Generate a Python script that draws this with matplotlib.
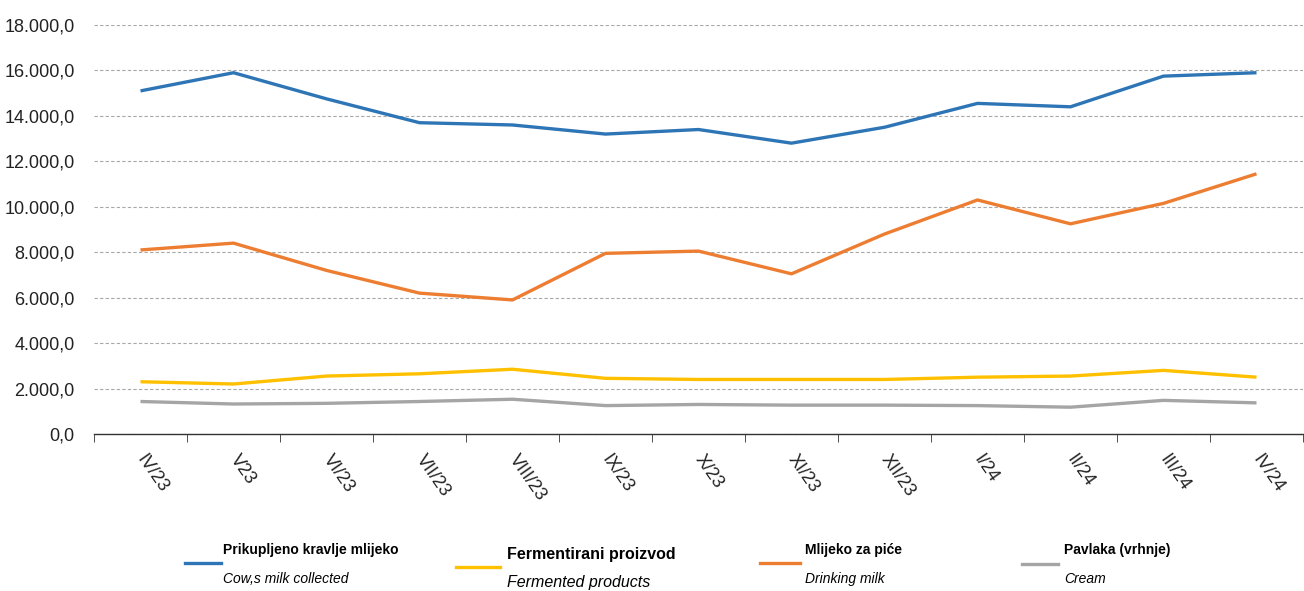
import matplotlib
matplotlib.use("Agg")
import matplotlib.pyplot as plt
from matplotlib.ticker import FuncFormatter, FixedLocator
from matplotlib.lines import Line2D
import numpy as np

categories = ["IV/23", "V23", "VI/23", "VII/23", "VIII/23", "IX/23", "X/23",
              "XI/23", "XII/23", "I/24", "II/24", "III/24", "IV/24"]
cow_milk = [15100, 15900, 14750, 13700, 13600, 13200, 13400, 12800, 13500, 14550, 14400, 15750, 15900]
drinking_milk = [8100, 8400, 7200, 6200, 5900, 7950, 8050, 7050, 8800, 10300, 9250, 10150, 11450]
fermented = [2300, 2200, 2550, 2650, 2850, 2450, 2400, 2400, 2400, 2500, 2550, 2800, 2500]
cream = [1430, 1320, 1350, 1430, 1530, 1250, 1300, 1270, 1270, 1250, 1180, 1480, 1370]

series_titles = ["Prikupljeno kravlje mlijeko", "Fermentirani proizvod", "Mlijeko za piće", "Pavlaka (vrhnje)"]
series_subtitles = ["Cow,s milk collected", "Fermented products", "Drinking milk", "Cream"]

C_BLUE = "#2E75B6"
C_ORANGE = "#ED7D31"
C_YELLOW = "#FFC000"
C_GRAY = "#A5A5A5"

plt.rcParams['font.family'] = ["Liberation Sans", "DejaVu Sans"]

fig = plt.figure(figsize=(13.04, 5.91), dpi=100)
ax = fig.add_axes([94/1304, 1 - 434/591, (1303-94)/1304, (434-25)/591])

x = np.arange(len(categories))
lw = 2.4
ax.plot(x, cream, color=C_GRAY, lw=lw, solid_capstyle='butt', zorder=3)
ax.plot(x, fermented, color=C_YELLOW, lw=lw, solid_capstyle='butt', zorder=3)
ax.plot(x, drinking_milk, color=C_ORANGE, lw=lw, solid_capstyle='butt', zorder=3)
ax.plot(x, cow_milk, color=C_BLUE, lw=lw, solid_capstyle='butt', zorder=3)

ax.set_xlim(-0.5, len(categories) - 0.5)
ax.set_ylim(0, 18000)
ax.set_yticks(np.arange(0, 18001, 2000))

def fmt(v, pos):
    s = f"{v:,.1f}"
    return s.replace(",", "X").replace(".", ",").replace("X", ".")
ax.yaxis.set_major_formatter(FuncFormatter(fmt))
ax.tick_params(axis='y', length=0, labelsize=13, pad=14)
for lab in ax.get_yticklabels():
    lab.set_color("#222222")

ax.grid(axis='y', color='#A8A8A8', linestyle=(0, (3, 2)), linewidth=0.8)
ax.set_axisbelow(True)
for s in ['left', 'right', 'top']:
    ax.spines[s].set_visible(False)
ax.spines['bottom'].set_color('#333333')
ax.spines['bottom'].set_linewidth(1.0)

ax.set_xticks(x)
ax.set_xticklabels(categories, rotation=-55, ha='left', va='center', rotation_mode='anchor', fontsize=13)
ax.tick_params(axis='x', which='major', length=0, pad=16)
for lab in ax.get_xticklabels():
    lab.set_color("#222222")
ax.xaxis.set_minor_locator(FixedLocator(np.arange(-0.5, len(categories), 1.0)))
ax.tick_params(axis='x', which='minor', length=6, direction='out', color='#333333')

# Custom legend
legend_items = [
    (C_BLUE, 185, 221, 563, 223, 550, 579, 10),
    (C_YELLOW, 456, 500, 567, 507, 555, 582, 11.5),
    (C_ORANGE, 760, 800, 563, 805, 550, 579, 10),
    (C_GRAY, 1022, 1058, 564, 1064, 550, 579, 10),
]
W, H = 1304, 591
for (col, x0, x1, ly, tx, ty, sy, fs), title, sub in zip(legend_items, series_titles, series_subtitles):
    fig.add_artist(Line2D([x0/W, x1/W], [1 - ly/H, 1 - ly/H], color=col, lw=2.4,
                          transform=fig.transFigure))
    fig.text(tx/W, 1 - ty/H, title, fontsize=fs, fontweight='bold', ha='left', va='center')
    fig.text(tx/W, 1 - sy/H, sub, fontsize=fs, fontstyle='italic', ha='left', va='center')

fig.savefig("out.png", dpi=100)
